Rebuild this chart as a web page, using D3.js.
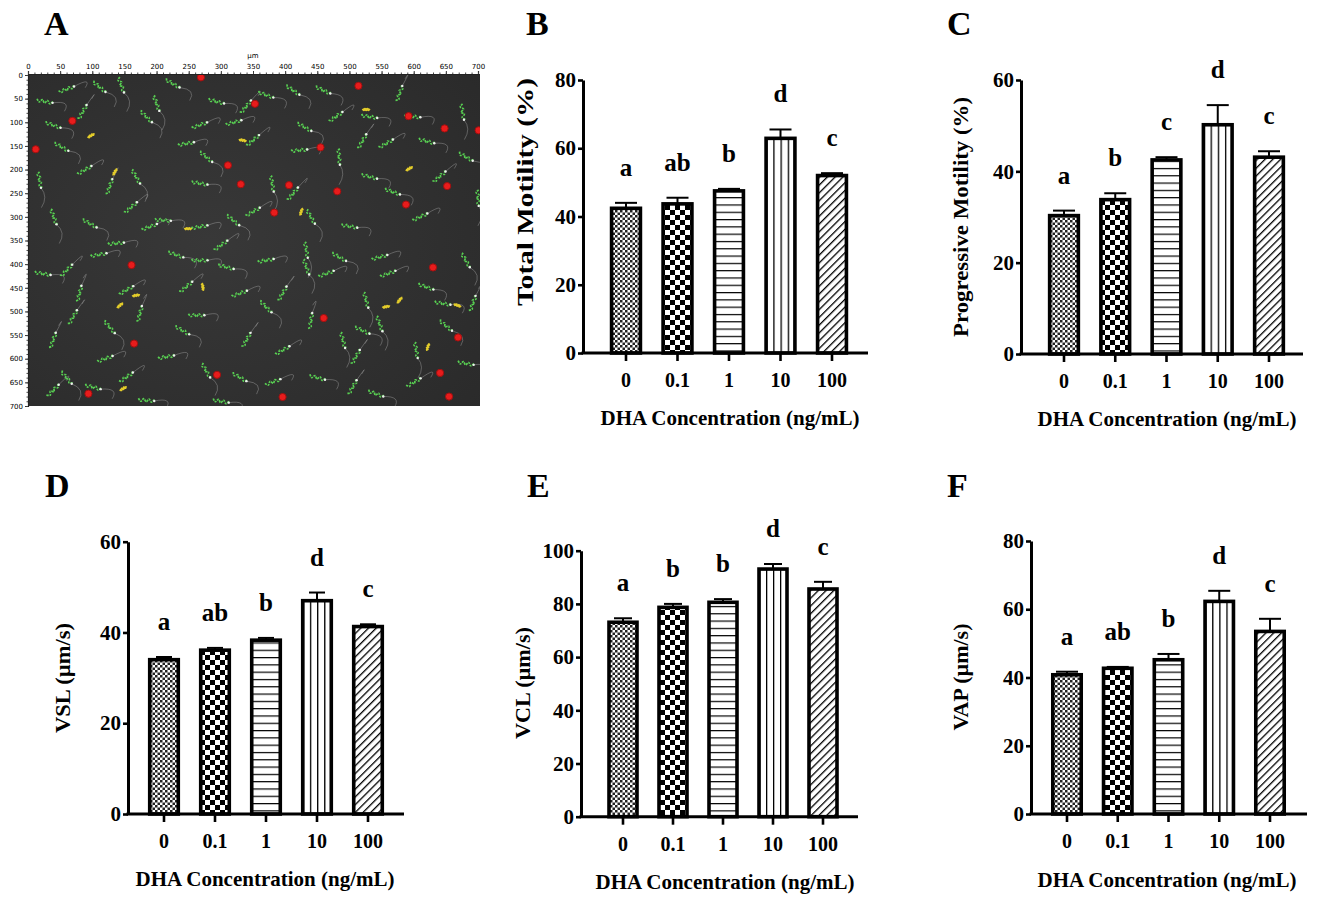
<!DOCTYPE html>
<html><head><meta charset="utf-8">
<script src="https://cdn.jsdelivr.net/npm/d3@7"></script>
<style>
body{margin:0;background:#fff}
svg{display:block}
text{font-family:"Liberation Serif","Times New Roman",serif;font-weight:bold;fill:#000}
</style>
</head><body>
<svg id="fig" width="1325" height="904"></svg>
<script>
// ---------------- DATA ----------------
const categories = ["0", "0.1", "1", "10", "100"];

const totalMotility     = [42.4, 43.7, 47.5, 62.9, 52.0];
const totalMotilityErr  = [1.6, 1.8, 0.6, 2.6, 0.7];
const totalMotilityLet  = ["a", "ab", "b", "d", "c"];

const progMotility      = [30.3, 33.8, 42.5, 50.2, 43.1];
const progMotilityErr   = [1.1, 1.4, 0.6, 4.3, 1.3];
const progMotilityLet   = ["a", "b", "c", "d", "c"];

const vsl    = [34.0, 36.1, 38.3, 47.0, 41.3];
const vslErr = [0.6, 0.5, 0.5, 1.8, 0.5];
const vslLet = ["a", "ab", "b", "d", "c"];

const vcl    = [73.1, 78.7, 80.6, 93.1, 85.6];
const vclErr = [1.5, 1.3, 1.2, 1.9, 2.7];
const vclLet = ["a", "b", "b", "d", "c"];

const vap    = [40.8, 42.7, 45.2, 62.3, 53.5];
const vapErr = [0.9, 0.4, 1.7, 3.1, 3.7];
const vapLet = ["a", "ab", "b", "d", "c"];

const ticks80  = [0, 20, 40, 60, 80];
const ticks60  = [0, 20, 40, 60];
const ticks100 = [0, 20, 40, 60, 80, 100];

const xTitle = "DHA Concentration (ng/mL)";

// Panel A: CASA tracking image (µm coordinates)
const imgTicks = [0,50,100,150,200,250,300,350,400,450,500,550,600,650,700];
const redDots = [[269,5],[514,23],[353,61],[69,97],[592,87],[648,113],[701,117],[12,157],
  [455,153],[311,191],[331,231],[406,233],[481,246],[652,235],[588,274],[383,291],[161,402],
  [630,407],[460,514],[669,555],[165,568],[641,630],[294,634],[94,674],[396,681],[655,680]];
const greenTracks = [[111,25,40],[145,21,70],[26,56,10],[85,78,-60],[39,106,20],[52,152,30],
  [18,222,80],[88,201,-30],[127,236,-70],[168,215,60],[184,88,45],[225,18,30],[267,106,-20],
  [293,56,15],[277,173,40],[246,145,-10],[267,229,10],[339,67,-50],[350,138,-40],[370,42,20],
  [412,32,35],[459,32,25],[479,88,-35],[531,88,10],[598,88,5],[578,39,-70],[676,78,80],
  [557,145,-30],[484,173,85],[531,215,15],[567,247,20],[640,215,-40],[681,173,30],[422,159,-5],
  [412,251,-50],[350,289,-30],[319,307,40],[267,321,-10],[210,307,5],[189,321,-20],[96,314,30],
  [137,356,-5],[23,420,10],[60,413,-45],[80,462,-75],[153,455,-30],[246,448,-40],[267,392,0],
  [308,406,15],[370,392,-10],[433,370,80],[433,406,70],[484,385,30],[547,385,-15],[619,448,20],
  [681,392,60],[692,483,-70],[645,483,10],[526,476,75],[396,462,-60],[370,490,45],[329,462,-20],
  [262,508,0],[174,505,-75],[127,533,50],[70,512,-60],[39,561,-70],[396,582,-30],[510,596,-60],
  [490,561,75],[547,526,70],[604,582,80],[681,610,10],[215,596,-10],[277,625,60],[329,639,30],
  [381,649,-20],[505,660,-60],[541,674,20],[184,688,5],[39,667,-45],[153,639,-35],[101,660,15],
  [464,420,-20],[60,30,-20],[200,60,70],[320,100,-15],[430,110,30],[520,140,-60],[620,140,15],
  [700,260,85],[610,300,-25],[500,320,10],[440,300,60],[300,360,-35],[230,380,20],[110,380,-10],
  [40,300,70],[160,280,-40],[380,230,80],[560,420,-20],[650,530,40],[600,650,-30],[450,640,15],
  [340,560,-60],[240,540,30],[120,600,-20],[60,640,50],[300,690,10],[440,520,-80],[520,540,25]];
const yellowTracks = [[98,128,-30],[135,205,-60],[334,138,10],[526,73,0],[593,198,-30],
  [425,289,-70],[249,325,0],[272,448,80],[168,466,-10],[143,487,-40],[557,490,-10],
  [578,476,-50],[668,487,20],[622,575,-70],[148,663,-30]];

// ---------------- LAYOUT ----------------
const panels = [
  {id:"B", vals: totalMotility, err: totalMotilityErr, lets: totalMotilityLet, ticks: ticks80,
   yLabel: "Total Motility  (%)", ylSize: 23, ylLen: 228,
   axisX:583, axisEnd:868, yTop:80, yBot:353, c0:626, c4:832, cap:22,
   labX:525, labY:192, titleX:730, titleY:425, tag:[526,35]},
  {id:"C", vals: progMotility, err: progMotilityErr, lets: progMotilityLet, ticks: ticks60,
   yLabel: "Progressive Motility (%)", ylSize: 22, ylLen: 240,
   axisX:1021, axisEnd:1303, yTop:80, yBot:354, c0:1064, c4:1269, cap:22,
   labX:960, labY:217, titleX:1167, titleY:426, tag:[947,35]},
  {id:"D", vals: vsl, err: vslErr, lets: vslLet, ticks: ticks60,
   yLabel: "VSL (µm/s)", ylSize: 22, ylLen: 110,
   axisX:128, axisEnd:404, yTop:541.7, yBot:814, c0:164, c4:368, cap:16,
   labX:62, labY:678, titleX:265, titleY:886, tag:[45,497]},
  {id:"E", vals: vcl, err: vclErr, lets: vclLet, ticks: ticks100,
   yLabel: "VCL (µm/s)", ylSize: 22, ylLen: 112,
   axisX:581, axisEnd:858, yTop:550.7, yBot:816.7, c0:623, c4:823, cap:18,
   labX:522, labY:683, titleX:725, titleY:889, tag:[527,497]},
  {id:"F", vals: vap, err: vapErr, lets: vapLet, ticks: ticks80,
   yLabel: "VAP (µm/s)", ylSize: 22, ylLen: 107,
   axisX:1031, axisEnd:1307, yTop:541, yBot:814, c0:1067, c4:1270, cap:22,
   labX:960, labY:677, titleX:1167, titleY:887, tag:[947,497]}
];
const patternIds = ["pFine", "pCheck", "pHoriz", "pVert", "pDiag"];

const svg = d3.select("#fig");
const defs = svg.append("defs");

// patterns
(function(){
  let p = defs.append("pattern").attr("id","pFine").attr("patternUnits","userSpaceOnUse")
    .attr("width",5).attr("height",5);
  p.append("rect").attr("width",5).attr("height",5).attr("fill","#fff");
  p.append("rect").attr("width",2.5).attr("height",2.5).attr("fill","#222");
  p.append("rect").attr("x",2.5).attr("y",2.5).attr("width",2.5).attr("height",2.5).attr("fill","#222");

  p = defs.append("pattern").attr("id","pCheck").attr("patternUnits","userSpaceOnUse")
    .attr("width",10).attr("height",10);
  p.append("rect").attr("width",10).attr("height",10).attr("fill","#fff");
  p.append("rect").attr("width",5).attr("height",5).attr("fill","#000");
  p.append("rect").attr("x",5).attr("y",5).attr("width",5).attr("height",5).attr("fill","#000");

  p = defs.append("pattern").attr("id","pHoriz").attr("patternUnits","userSpaceOnUse")
    .attr("width",10).attr("height",7.3);
  p.append("rect").attr("width",10).attr("height",7.3).attr("fill","#fff");
  p.append("rect").attr("y",0).attr("width",10).attr("height",1.2).attr("fill","#000");

  p = defs.append("pattern").attr("id","pVert").attr("patternUnits","objectBoundingBox")
    .attr("width",0.25).attr("height",1);
  p.append("rect").attr("width",40).attr("height",2000).attr("fill","#fff");
  p.append("rect").attr("x",0).attr("width",1.3).attr("height",2000).attr("fill","#000");

  p = defs.append("pattern").attr("id","pDiag").attr("patternUnits","userSpaceOnUse")
    .attr("width",5.5).attr("height",5.5).attr("patternTransform","rotate(45)");
  p.append("rect").attr("width",5.5).attr("height",5.5).attr("fill","#fff");
  p.append("rect").attr("x",0).attr("width",1.3).attr("height",5.5).attr("fill","#000");
})();

// ---------------- BAR PANELS ----------------
panels.forEach(P => {
  const g = svg.append("g");
  const step = (P.c4 - P.c0) / (categories.length - 1);
  const x = d3.scaleBand().domain(categories)
    .range([P.c0 - step/2, P.c4 + step/2]).paddingInner(0.44).paddingOuter(0.22);
  const y = d3.scaleLinear().domain([0, d3.max(P.ticks)]).range([P.yBot, P.yTop]);
  const data = categories.map((c,i) => ({c, v:P.vals[i], e:P.err[i], l:P.lets[i], p:patternIds[i]}));

  g.selectAll("rect.bar").data(data).join("rect").attr("class","bar")
    .attr("x", d => x(d.c)).attr("width", x.bandwidth())
    .attr("y", d => y(d.v)).attr("height", d => y(0) - y(d.v))
    .attr("fill", d => `url(#${d.p})`).attr("stroke","#000").attr("stroke-width",3.6);

  g.selectAll("line.eb").data(data).join("line").attr("class","eb")
    .attr("x1", d => x(d.c)+x.bandwidth()/2).attr("x2", d => x(d.c)+x.bandwidth()/2)
    .attr("y1", d => y(d.v)).attr("y2", d => y(d.v+d.e))
    .attr("stroke","#000").attr("stroke-width",2);
  g.selectAll("line.cap").data(data).join("line").attr("class","cap")
    .attr("x1", d => x(d.c)+x.bandwidth()/2-P.cap/2).attr("x2", d => x(d.c)+x.bandwidth()/2+P.cap/2)
    .attr("y1", d => y(d.v+d.e)).attr("y2", d => y(d.v+d.e))
    .attr("stroke","#000").attr("stroke-width",2);

  g.selectAll("text.sig").data(data).join("text").attr("class","sig")
    .attr("x", d => x(d.c)+x.bandwidth()/2).attr("y", d => y(d.v+d.e) - 27)
    .attr("text-anchor","middle").style("font-size","25px").text(d => d.l);

  const ya = g.append("g").attr("transform",`translate(${P.axisX},0)`)
    .call(d3.axisLeft(y).tickValues(P.ticks).tickFormat(d3.format("d")).tickSize(5).tickSizeOuter(0).tickPadding(2));
  ya.select(".domain").attr("stroke","#000").attr("stroke-width",3);
  ya.selectAll(".tick line").attr("stroke","#000").attr("stroke-width",2.6);
  ya.selectAll(".tick text").style("font-size","21px").style("font-family",null).attr("fill","#000");

  const xa = g.append("g").attr("transform",`translate(0,${P.yBot})`)
    .call(d3.axisBottom(x).tickSize(8).tickSizeOuter(0).tickPadding(12));
  xa.select(".domain").remove();
  xa.selectAll(".tick line").attr("stroke","#000").attr("stroke-width",2.6);
  xa.selectAll(".tick text").style("font-size","20px").style("font-family",null).attr("fill","#000");
  g.append("line").attr("x1",P.axisX-1.5).attr("x2",P.axisEnd).attr("y1",P.yBot).attr("y2",P.yBot)
    .attr("stroke","#000").attr("stroke-width",3);

  g.append("text").attr("transform",`translate(${P.labX},${P.labY}) rotate(-90)`)
    .attr("text-anchor","middle").attr("dominant-baseline","central")
    .attr("textLength", P.ylLen).attr("lengthAdjust","spacingAndGlyphs")
    .style("font-size", P.ylSize + "px").text(P.yLabel);
  g.append("text").attr("x",P.titleX).attr("y",P.titleY).attr("text-anchor","middle")
    .style("font-size","21px").text(xTitle);

  g.append("text").attr("x",P.tag[0]).attr("y",P.tag[1]).style("font-size","34px").text(P.id);
});

// ---------------- PANEL A ----------------
(function(){
  const g = svg.append("g");
  const xA = d3.scaleLinear().domain([0,700]).range([28,478]);
  const yA = d3.scaleLinear().domain([0,700]).range([75,406]);
  const grad = defs.append("radialGradient").attr("id","bgGrad").attr("cx","0.4").attr("cy","0.5").attr("r","0.8");
  grad.append("stop").attr("offset","0").attr("stop-color","#383838");
  grad.append("stop").attr("offset","1").attr("stop-color","#2a2a2a");
  g.append("rect").attr("x",xA(0)).attr("y",yA(0)-1).attr("width",xA(700)-xA(0)+2).attr("height",yA(700)-yA(0)+1)
    .attr("fill","url(#bgGrad)");
  const clip = defs.append("clipPath").attr("id","imgClip");
  clip.append("rect").attr("x",xA(0)).attr("y",yA(0)-1).attr("width",xA(700)-xA(0)+2).attr("height",yA(700)-yA(0)+1);
  const gi = g.append("g").attr("clip-path","url(#imgClip)");

  function squiggle(t, len, amp){
    const a = t[2]*Math.PI/180, cx = xA(t[0]), cy = yA(t[1]);
    const dx = Math.cos(a), dy = Math.sin(a), n = 6;
    const pts = d3.range(n+1).map(k => {
      const s = -len/2 + len*k/n, o = (k%2 ? amp : -amp);
      return [cx + dx*s - dy*o, cy + dy*s + dx*o];
    });
    return d3.line().curve(d3.curveCatmullRom)(pts);
  }
  gi.selectAll("path.tail").data(greenTracks).join("path").attr("class","tail")
    .attr("d", t => {
      const a = t[2]*Math.PI/180, cx = xA(t[0]) + Math.cos(a)*8, cy = yA(t[1]) + Math.sin(a)*8;
      const ex = cx + Math.cos(a)*14, ey = cy + Math.sin(a)*14;
      return `M${cx},${cy} Q${ex+5},${ey-5} ${ex-2},${ey+6}`;
    })
    .attr("fill","none").attr("stroke","#a0a0a0").attr("stroke-width",0.9).attr("opacity",0.5);
  gi.selectAll("path.green").data(greenTracks).join("path").attr("class","green")
    .attr("d", t => squiggle(t, 16, 1.4))
    .attr("fill","none").attr("stroke","#58cf52").attr("stroke-width",1.7)
    .attr("stroke-dasharray","2.2,0.8");
  gi.selectAll("circle.head").data(greenTracks).join("circle").attr("class","head")
    .attr("cx", t => xA(t[0]) + Math.cos(t[2]*Math.PI/180)*8)
    .attr("cy", t => yA(t[1]) + Math.sin(t[2]*Math.PI/180)*8)
    .attr("r",1.2).attr("fill","#eeeeee");
  gi.selectAll("path.yellow").data(yellowTracks).join("path").attr("class","yellow")
    .attr("d", t => squiggle(t, 7, 0.8))
    .attr("fill","none").attr("stroke","#e3cc2a").attr("stroke-width",2);
  gi.selectAll("circle.red").data(redDots).join("circle").attr("class","red")
    .attr("cx", d => xA(d[0])).attr("cy", d => yA(d[1])).attr("r",3.6)
    .attr("fill","#e81c1c").attr("stroke","#a01010").attr("stroke-width",1);

  const ta = g.append("g").attr("transform",`translate(0,${yA(0)-1})`)
    .call(d3.axisTop(xA).tickValues(imgTicks).tickSize(3).tickPadding(2).tickFormat(d3.format("d")));
  ta.select(".domain").attr("stroke","#222").attr("stroke-width",1.2);
  ta.selectAll(".tick line").attr("stroke","#333");
  ta.selectAll(".tick text").style("font-size","7px").style("font-family","DejaVu Sans, sans-serif")
    .style("font-weight","normal").attr("fill","#555");
  g.append("g").attr("transform",`translate(0,${yA(0)-1})`)
    .call(d3.axisTop(xA).ticks(70).tickSize(1.5).tickFormat(""))
    .call(s => s.select(".domain").remove()).selectAll("line").attr("stroke","#444");
  g.append("text").attr("x",xA(350)).attr("y",58).attr("text-anchor","middle")
    .style("font-size","7px").style("font-family","DejaVu Sans, sans-serif").style("font-weight","normal")
    .attr("fill","#555").text("µm");
  const la = g.append("g").attr("transform",`translate(${xA(0)},0)`)
    .call(d3.axisLeft(yA).tickValues(imgTicks).tickSize(3).tickPadding(2).tickFormat(d3.format("d")));
  la.select(".domain").attr("stroke","#222").attr("stroke-width",1.2);
  la.selectAll(".tick line").attr("stroke","#333");
  la.selectAll(".tick text").style("font-size","7px").style("font-family","DejaVu Sans, sans-serif")
    .style("font-weight","normal").attr("fill","#555");
  g.append("g").attr("transform",`translate(${xA(0)},0)`)
    .call(d3.axisLeft(yA).ticks(70).tickSize(1.5).tickFormat(""))
    .call(s => s.select(".domain").remove()).selectAll("line").attr("stroke","#444");

  g.append("text").attr("x",44).attr("y",35).style("font-size","34px").text("A");
})();
</script>
</body></html>
